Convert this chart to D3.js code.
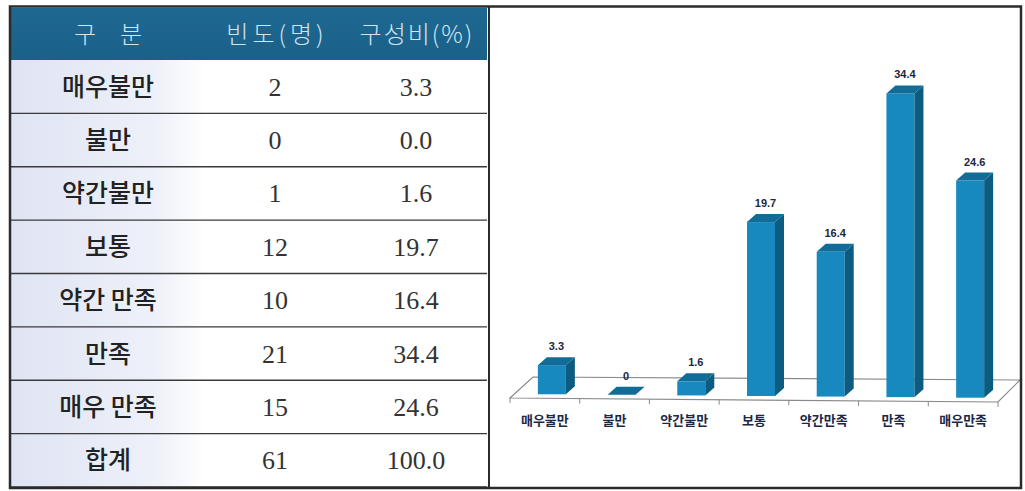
<!DOCTYPE html>
<html><head><meta charset="utf-8">
<script src="https://cdn.jsdelivr.net/npm/d3@7/dist/d3.min.js"></script>
<style>html,body{margin:0;padding:0;background:#fff;}svg{display:block;}</style>
</head><body>
<svg id="c" width="1025" height="491"></svg>
<script>
// ---- data ----
const tableLabels = ['매우불만','불만','약간불만','보통','약간 만족','만족','매우 만족'];
const chartLabels = ['매우불만','불만','약간불만','보통','약간만족','만족','매우만족'];
const counts = [2,0,1,12,10,21,15];
const percents = [3.3,0.0,1.6,19.7,16.4,34.4,24.6];
const pctLabels = ['3.3','0','1.6','19.7','16.4','34.4','24.6'];
const headers = ['구　분','빈도(명)','구성비(%)'];
const totalLabel = '합계';
const totalCount = 61;
const totalPct = '100.0';

const svg = d3.select('#c');
const defs = svg.append('defs');
const g1 = defs.append('linearGradient').attr('id','colg').attr('x1','0').attr('x2','1').attr('y1','0').attr('y2','0');
g1.append('stop').attr('offset','0').attr('stop-color','#dfe4f4');
g1.append('stop').attr('offset','0.75').attr('stop-color','#eef1f9');
g1.append('stop').attr('offset','1').attr('stop-color','#ffffff');
const g2 = defs.append('linearGradient').attr('id','hdg').attr('x1','0').attr('x2','0').attr('y1','0').attr('y2','1');
g2.append('stop').attr('offset','0').attr('stop-color','#1e6891');
g2.append('stop').attr('offset','1').attr('stop-color','#1a6189');

// ---- table ----
const tX0 = 11, tX1 = 487, hTop = 8, hBot = 60, tBot = 487;
const rows = tableLabels.map((l,i)=>({label:l, count:String(counts[i]), pct:percents[i].toFixed(1)}));
rows.push({label:totalLabel, count:String(totalCount), pct:totalPct});
const rowY = d3.scaleBand().domain(d3.range(rows.length)).range([hBot, tBot]);
const colX = [108, 275, 416];
const hdSpacing = [0, 4, 2];

svg.append('rect').attr('x',tX0).attr('y',hTop).attr('width',tX1-tX0).attr('height',hBot-hTop).attr('fill','url(#hdg)');
svg.append('rect').attr('x',tX0).attr('y',hBot).attr('width',205-tX0).attr('height',tBot-hBot).attr('fill','url(#colg)');

svg.selectAll('text.hd').data(headers).enter().append('text')
  .attr('x',(d,i)=>colX[i]+hdSpacing[i]/2).attr('y',43).attr('text-anchor','middle')
  .attr('letter-spacing',(d,i)=>hdSpacing[i])
  .attr('font-family','"Noto Sans CJK KR"').attr('font-weight',300).attr('font-size',24)
  .attr('fill','#d4e3f0').text(d=>d);

const rg = svg.selectAll('g.row').data(rows).enter().append('g');
rg.append('line').attr('x1',tX0).attr('x2',tX1)
  .attr('y1',(d,i)=>rowY(i)+rowY.bandwidth()).attr('y2',(d,i)=>rowY(i)+rowY.bandwidth())
  .attr('stroke','#3a3a3a').attr('stroke-width',1.3);
rg.append('text').attr('x',colX[0]).attr('y',(d,i)=>rowY(i)+rowY.bandwidth()/2+9)
  .attr('text-anchor','middle').attr('font-family','"Noto Sans CJK KR"').attr('font-weight',500)
  .attr('font-size',25).attr('fill','#222').text(d=>d.label);
rg.append('text').attr('x',colX[1]).attr('y',(d,i)=>rowY(i)+rowY.bandwidth()/2+9)
  .attr('text-anchor','middle').attr('font-family','"Liberation Serif"')
  .attr('font-size',26).attr('fill','#333').text(d=>d.count);
rg.append('text').attr('x',colX[2]).attr('y',(d,i)=>rowY(i)+rowY.bandwidth()/2+9)
  .attr('text-anchor','middle').attr('font-family','"Liberation Serif"')
  .attr('font-size',26).attr('fill','#333').text(d=>d.pct);

// ---- chart ----
const x = d3.scaleBand().domain(chartLabels).range([510, 998]).padding(0);
const y = d3.scaleLinear().domain([0, 35]).range([0, 309]);
const floorY = px => 398 + (px - 510) * 4 / 488;
const dx = 9, dy = 8;

// floor
const fl = [[510,398],[998,402],[1020,380],[533,377]];
svg.append('path').attr('d', d3.line()(fl) + 'Z').attr('fill','#fff').attr('stroke','#8a8a8a').attr('stroke-width',1.2);
// ticks on front edge
svg.selectAll('line.tk').data(d3.range(chartLabels.length+1)).enter().append('line')
  .attr('x1',i=>510 + i*x.bandwidth()).attr('x2',i=>510 + i*x.bandwidth())
  .attr('y1',i=>floorY(510 + i*x.bandwidth())).attr('y2',i=>floorY(510 + i*x.bandwidth())+5)
  .attr('stroke','#8a8a8a').attr('stroke-width',1);

const bars = chartLabels.map((c,i)=>{
  const cx = x(c) + x.bandwidth()/2;
  const left = cx - 7, w = 28;
  const base = floorY(cx) - 4;
  const h = y(percents[i]);
  return {c, i, left, w, base, top: base - h, h};
});
const bg = svg.selectAll('g.bar').data(bars).enter().append('g');
// front
bg.filter(d=>d.h>0).append('rect').attr('x',d=>d.left).attr('y',d=>d.top).attr('width',d=>d.w).attr('height',d=>d.h).attr('fill','#1889bf');
// side
bg.filter(d=>d.h>0).append('path').attr('d',d=>d3.line()([[d.left+d.w,d.top],[d.left+d.w+dx,d.top-dy],[d.left+d.w+dx,d.base-dy],[d.left+d.w,d.base]])+'Z').attr('fill','#0c5b80');
// top
bg.append('path').attr('d',d=>d3.line()([[d.left,d.top],[d.left+dx,d.top-dy],[d.left+d.w+dx,d.top-dy],[d.left+d.w,d.top]])+'Z').attr('fill','#126c98');

// value labels
bg.append('text').attr('x',d=>d.left+d.w/2+dx/2).attr('y',d=>d.top-dy-7)
  .attr('text-anchor','middle').attr('font-family','"Liberation Sans Narrow","Liberation Sans"')
  .attr('font-weight','bold').attr('font-size',11).attr('fill','#1d2740')
  .text(d=>pctLabels[d.i]);

// category labels
svg.selectAll('text.cat').data(chartLabels).enter().append('text')
  .attr('x',d=>x(d)+x.bandwidth()/2).attr('y',425).attr('text-anchor','middle')
  .attr('font-family','"Noto Sans CJK KR"').attr('font-weight',700).attr('font-size',13)
  .attr('fill','#1c2848').text(d=>d);

// frames
svg.append('line').attr('x1',489).attr('x2',489).attr('y1',7).attr('y2',488).attr('stroke','#2b2b2b').attr('stroke-width',2);
svg.append('rect').attr('x',10).attr('y',6.5).attr('width',1011).attr('height',481.5).attr('fill','none').attr('stroke','#2b2b2b').attr('stroke-width',2.5);
</script>
</body></html>
